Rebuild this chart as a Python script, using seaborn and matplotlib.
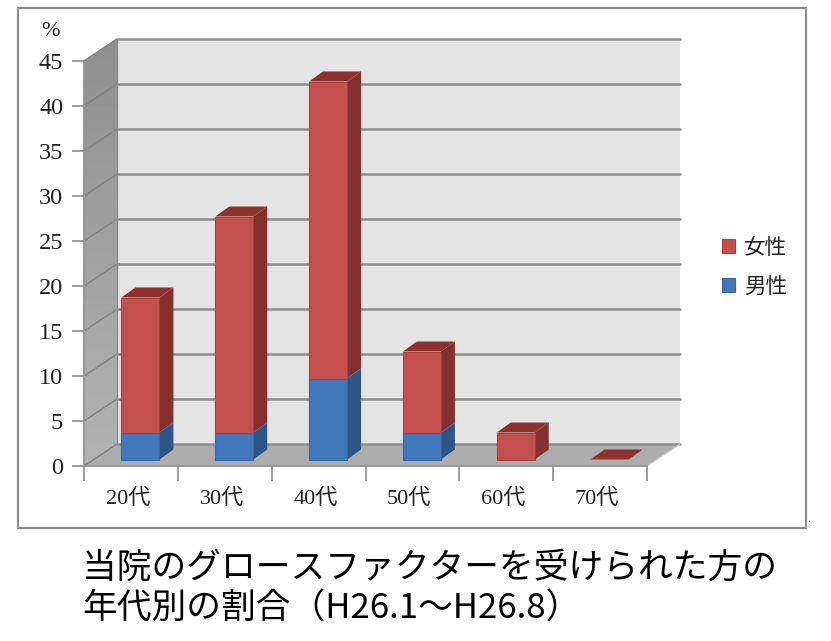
import matplotlib
matplotlib.use("Agg")
import matplotlib.pyplot as plt
from matplotlib.patches import Polygon, Rectangle
from matplotlib.transforms import Affine2D
import numpy as np
import pandas as pd
import seaborn as sns

ages = ["20代", "30代", "40代", "50代", "60代", "70代"]
female = [15, 24, 33, 9, 3, 0]
male = [3, 3, 9, 3, 0, 0]
y_ticks = [0, 5, 10, 15, 20, 25, 30, 35, 40, 45]
series_labels = ["女性", "男性"]
title_lines = ["当院のグロースファクターを受けられた方の", "年代別の割合（H26.1〜H26.8）"]

RED, RED_SIDE, RED_TOP = "#c4504d", "#85302d", "#8f322f"
BLUE, BLUE_SIDE = "#4177bb", "#2d5587"
GRID = "#8e8e8e"
# depth of the fake 3d box, in data units
WALL_X, WALL_Y = 0.352, 2.44
BAR_X, BAR_Y = 0.149, 1.11

sns.set_theme(style="white")
plt.rcParams["font.family"] = ["Liberation Serif", "Noto Sans CJK JP"]

df = pd.DataFrame({"age": ages, "female": female, "male": male})
df["total"] = df["female"] + df["male"]

fig = plt.figure(figsize=(8.31, 6.41), dpi=100)
ax = fig.add_axes([84 / 831, 1 - 466 / 641, 563 / 831, 405 / 641])
ax.patch.set_alpha(0)

fig.add_artist(Rectangle((18 / 831, 1 - 528 / 641), 788 / 831, 520 / 641,
                         transform=fig.transFigure, fc="white", ec="#8c8c8c", lw=1.6, zorder=-1))

sns.barplot(data=df, x="age", y="total", color=RED, saturation=1, width=0.405,
            label=series_labels[0], ax=ax, zorder=5)
sns.barplot(data=df, x="age", y="male", color=BLUE, saturation=1, width=0.405,
            label=series_labels[1], ax=ax, zorder=6)
ax.set_xlim(-0.5, 5.5)
ax.set_ylim(0, 45)
x0, x1 = ax.get_xlim()

# bars are pushed in from the front edge of the floor
shift = ax.transData + Affine2D().translate(9.5, 6.5)

# walls and floor
side_wall = Polygon([(x0, 0), (x0, 45), (x0 + WALL_X, 45 + WALL_Y), (x0 + WALL_X, WALL_Y)],
                    fc="none", ec="none", clip_on=False, zorder=1)
ax.add_patch(side_wall)
shade = ax.imshow(np.linspace(0.56, 0.7, 64).reshape(-1, 1), cmap="gray", vmin=0, vmax=1, aspect="auto",
                  origin="upper", extent=(x0, x0 + WALL_X, 0, 45 + WALL_Y), zorder=1)
shade.set_clip_path(side_wall)
shade.set_clip_box(fig.bbox)
ax.set_xlim(x0, x1)
ax.set_ylim(0, 45)
ax.add_patch(Polygon([(x0 + WALL_X, WALL_Y), (x0 + WALL_X, 45 + WALL_Y),
                      (x1 + WALL_X, 45 + WALL_Y), (x1 + WALL_X, WALL_Y)],
                     fc="#e4e4e4", ec="none", clip_on=False, zorder=1))
ax.add_patch(Polygon([(x0, 0), (x1, 0), (x1 + WALL_X, WALL_Y), (x0 + WALL_X, WALL_Y)],
                     fc="#adadad", ec="none", clip_on=False, zorder=1))
for t in y_ticks:
    ax.plot([x0 + WALL_X, x1 + WALL_X], [t + WALL_Y, t + WALL_Y],
            color=GRID, lw=1.8, clip_on=False, zorder=2)
    ax.plot([x0, x0 + WALL_X], [t, t + WALL_Y], color="#858585", lw=1.1, clip_on=False, zorder=2)
ax.plot([x0 + WALL_X, x0 + WALL_X], [WALL_Y, 45 + WALL_Y], color=GRID, lw=1, clip_on=False, zorder=2)
ax.plot([x1, x1 + WALL_X], [0, WALL_Y], color="#c8c8c8", lw=1, clip_on=False, zorder=2)

# side and top faces from the bar values
bars = ax.containers
for i, (bar_t, bar_m) in enumerate(zip(bars[0], bars[1])):
    left = bar_t.get_x()
    right = left + bar_t.get_width()
    total = df["total"][i]
    m = df["male"][i]
    bar_t.set_transform(shift)
    bar_m.set_transform(shift)
    bar_t.set_clip_on(False)
    bar_m.set_clip_on(False)
    bar_t.set_edgecolor("#a8413e")
    bar_t.set_linewidth(0.8)
    bar_m.set_edgecolor("#3a6aa5")
    bar_m.set_linewidth(0.8)
    bar_t.set_visible(total > 0)
    bar_m.set_visible(m > 0)
    if total > m:
        ax.add_patch(Polygon([(right, m), (right, total), (right + BAR_X, total + BAR_Y), (right + BAR_X, m + BAR_Y)],
                             fc=RED_SIDE, ec="none", transform=shift, clip_on=False, zorder=4))
    if m > 0:
        ax.add_patch(Polygon([(right, 0), (right, m), (right + BAR_X, m + BAR_Y), (right + BAR_X, BAR_Y)],
                             fc=BLUE_SIDE, ec="none", transform=shift, clip_on=False, zorder=4))
    ax.add_patch(Polygon([(left, total), (right, total), (right + BAR_X, total + BAR_Y), (left + BAR_X, total + BAR_Y)],
                         fc=RED_TOP, ec="none", transform=shift, clip_on=False, zorder=7))

for s in ["top", "right"]:
    ax.spines[s].set_visible(False)
for s in ["left", "bottom"]:
    ax.spines[s].set_color(GRID)
    ax.spines[s].set_linewidth(1.2)
    ax.spines[s].set_zorder(3)

ax.set_xlabel("")
ax.set_ylabel("")
ax.set_yticks(y_ticks)
ax.set_xticks(range(len(ages)), ages)
ax.set_xticks(np.arange(len(ages) + 1) - 0.5, minor=True)
ax.tick_params(axis="x", which="major", length=0, pad=16, labelsize=16, labelcolor="#222222")
ax.tick_params(axis="x", which="minor", length=11, width=1.2, color=GRID, bottom=True)
ax.tick_params(axis="y", length=9, width=1.2, color=GRID, left=True, pad=6, labelsize=17.5, labelcolor="#222222")
for lab in ax.get_xticklabels():
    lab.set_transform(lab.get_transform() + Affine2D().translate(-3, 0))
fig.text(50 / 831, 1 - 32 / 641, "%", fontsize=16, color="#222222", ha="center", va="center")
fig.text(809 / 831, 1 - 520 / 641, ".", fontsize=8, color="#555555", ha="center", va="center")

handles, labels = ax.get_legend_handles_labels()
ax.legend(handles, labels, loc="center left", bbox_to_anchor=(703 / 831, 1 - 267 / 641),
          bbox_transform=fig.transFigure, frameon=False, handlelength=0.6,
          handleheight=0.6, handletextpad=0.4, labelspacing=0.78, labelcolor="#222222",
          prop={"family": ["Noto Sans CJK JP"], "size": 15.5})

fig.text(82 / 831, 1 - 578 / 641, title_lines[0], fontsize=25, family=["Noto Sans CJK JP"], color="black", va="baseline")
fig.text(82 / 831, 1 - 619 / 641, title_lines[1], fontsize=25, family=["Noto Sans CJK JP"], color="black", va="baseline")

fig.savefig("out.png", dpi=100)
